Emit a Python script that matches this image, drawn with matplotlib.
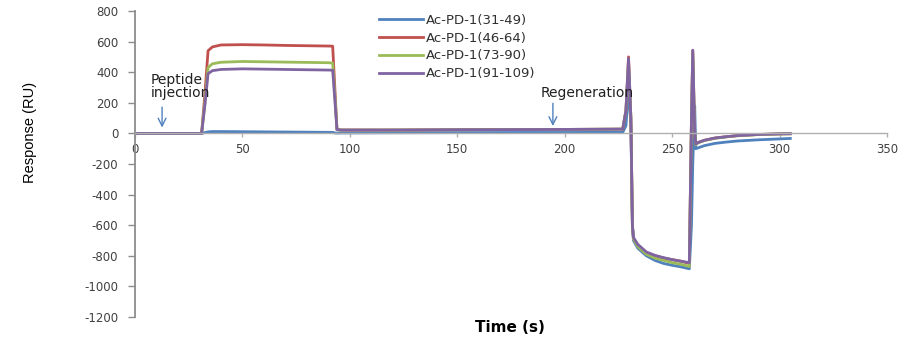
import matplotlib
matplotlib.use("Agg")
import matplotlib.pyplot as plt

plt.rcParams["axes.unicode_minus"] = False

# Sensorgram time points (s)
time_s = [0, 31, 32.5, 34, 36, 40, 50, 60, 70, 80, 90, 92, 93, 94, 96, 120, 150,
          180, 200, 227, 228.5, 229.7, 230.8, 231.5, 232, 234, 238, 242, 246, 250,
          254, 258, 259, 259.6, 260.5, 261, 262, 265, 270, 275, 280, 290, 300, 305]

# Response (RU) of each peptide
resp_31_49 = [0, 0, 5, 10, 12, 12, 11, 10, 9, 8, 7, 7, 3, 2, 3, 4, 5, 6, 6, 7, 50,
              300, 50, -600, -700, -750, -800, -830, -850, -862, -872, -885, -600,
              -200, 180, -100, -95, -80, -65, -57, -50, -42, -36, -33]
resp_46_64 = [0, 0, 250, 540, 565, 578, 580, 578, 575, 573, 571, 570, 300, 25, 22,
              22, 24, 25, 26, 28, 150, 500, 100, -600, -690, -730, -780, -800, -815,
              -825, -835, -850, 100, 540, 0, -70, -60, -45, -30, -22, -15, -7, -3, -2]
resp_73_90 = [0, 0, 200, 430, 455, 465, 470, 468, 466, 464, 462, 460, 250, 25, 22,
              22, 24, 25, 26, 28, 150, 460, 100, -600, -690, -740, -790, -815, -830,
              -845, -855, -870, 100, 520, 0, -75, -62, -47, -32, -23, -16, -8, -4, -3]
resp_91_109 = [0, 0, 180, 390, 410, 418, 422, 420, 418, 416, 414, 413, 220, 25, 22,
               22, 24, 25, 26, 28, 150, 490, 100, -600, -680, -725, -775, -797, -812,
               -825, -835, -845, 100, 544, 0, -70, -60, -45, -30, -22, -15, -7, -3, -2]

labels = ["Ac-PD-1(31-49)", "Ac-PD-1(46-64)", "Ac-PD-1(73-90)", "Ac-PD-1(91-109)"]
colors = ["#4F81BD", "#C0504D", "#9BBB59", "#8064A2"]
series = [resp_31_49, resp_46_64, resp_73_90, resp_91_109]

x_ticks = [0, 50, 100, 150, 200, 250, 300, 350]
y_ticks = [800, 600, 400, 200, 0, -200, -400, -600, -800, -1000, -1200]

W, H = 917, 338
fig = plt.figure(figsize=(W / 100, H / 100), dpi=100)
ax = fig.add_axes([135 / W, 1 - 317 / H, (887 - 135) / W, (317 - 11) / H])

for vals, lab, col in zip(series, labels, colors):
    ax.plot(time_s, vals, color=col, lw=2.0, label=lab, solid_joinstyle="round")

ax.set_xlim(0, 350)
ax.set_ylim(-1200, 800)
ax.set_xticks(x_ticks)
ax.set_yticks(y_ticks)

axis_gray = "#8c8c8c"
for side in ("top", "right"):
    ax.spines[side].set_visible(False)
ax.spines["bottom"].set_position(("data", 0))
ax.spines["left"].set_color(axis_gray)
ax.spines["left"].set_linewidth(1.3)
ax.spines["bottom"].set_color("#b0b0b0")
ax.spines["bottom"].set_linewidth(1.0)

ax.tick_params(axis="y", direction="out", length=5, width=1, color=axis_gray,
               pad=7, labelsize=8.5, labelcolor="#404040")
ax.tick_params(axis="x", direction="out", length=3, width=1, color="#b0b0b0",
               pad=4, labelsize=8.5, labelcolor="#404040")

# Axis titles
fig.text(30 / W, 1 - 132 / H, "Response (RU)", rotation=90, ha="center", va="center",
         fontsize=10.5, family=["Liberation Sans Narrow", "Liberation Sans"])
fig.text(510 / W, 1 - 327 / H, "Time (s)", ha="center", va="center",
         fontsize=11, fontweight="bold")

# Event markers
arrow_col = "#4F81BD"
ax.text(7.4, 395, "Peptide\ninjection", fontsize=10, color="#202020", va="top",
        linespacing=0.95)
ax.annotate("", xy=(12.6, 20), xytext=(12.6, 190),
            arrowprops=dict(arrowstyle="->", color=arrow_col, lw=1.0,
                            mutation_scale=14))
ax.text(189, 313, "Regeneration", fontsize=10, color="#202020", va="top")
ax.annotate("", xy=(194.5, 30), xytext=(194.5, 215),
            arrowprops=dict(arrowstyle="->", color=arrow_col, lw=1.0,
                            mutation_scale=14))

leg = ax.legend(loc="upper left", bbox_to_anchor=(379 / W, 1 - 14 / H),
                bbox_transform=fig.transFigure, frameon=False, fontsize=9.5,
                handlelength=3.3, handletextpad=0.25, labelspacing=0.36,
                borderaxespad=0, borderpad=0)
for txt in leg.get_texts():
    txt.set_color("#303030")

fig.savefig("out.png", dpi=100)
